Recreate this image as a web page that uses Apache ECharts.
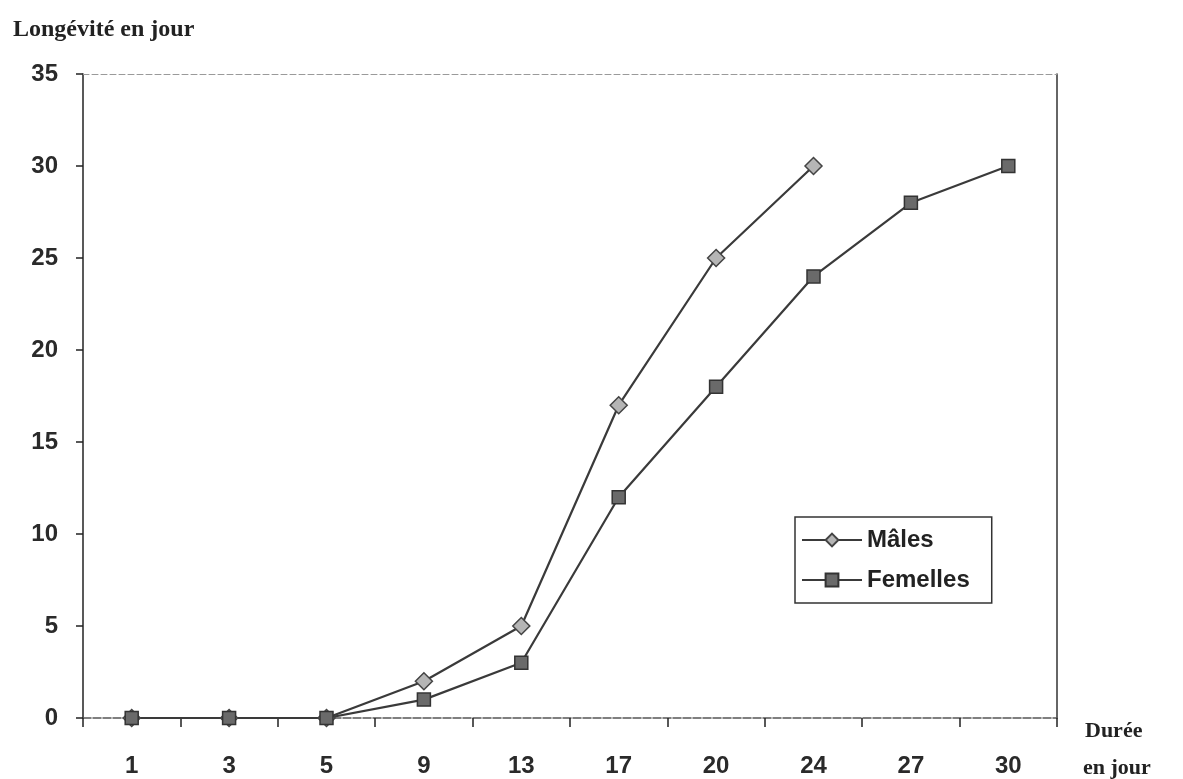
<!DOCTYPE html>
<html><head><meta charset="utf-8">
<script src="https://cdn.jsdelivr.net/npm/echarts@6/dist/echarts.min.js"></script>
<style>html,body{margin:0;padding:0;background:#fff}#c{width:1183px;height:779px}</style>
</head><body><div id="c"></div>
<script>
const categories = ['1','3','5','9','13','17','20','24','27','30'];
const males = [0,0,0,2,5,17,25,30,null,null];
const femelles = [0,0,0,1,3,12,18,24,28,30];
const yTicks = {min:0, max:35, interval:5};

const chart = echarts.init(document.getElementById('c'), null, {renderer:'canvas'});
const lineCol = '#3a3a3a';
const tickFont = {fontFamily:'Liberation Sans', fontSize:24, color:'#2a2a2a', fontWeight:'bold'};
const serifBold = {fontFamily:'Liberation Serif', fontWeight:'bold', fontSize:22, color:'#222'};
chart.setOption({
  backgroundColor:'#fff',
  animation:false,
  grid:{left:83, right:126, top:74, bottom:61, containLabel:false},
  title:[
    {text:'Longévité en jour', left:8, top:13, textStyle:Object.assign({}, serifBold, {fontSize:24})},
    {text:'Durée', left:1085, top:720, padding:0, textStyle:serifBold},
    {text:'en jour', left:1083, top:757, padding:0, textStyle:serifBold}
  ],
  legend:{
    orient:'vertical', left:795, top:517,
    padding:[11,22,11,6], itemGap:16,
    borderColor:'#333', borderWidth:1.5, backgroundColor:'#fff',
    itemWidth:60, itemHeight:16,
    textStyle:{fontFamily:'Liberation Sans', fontSize:24, color:'#222', fontWeight:'bold'},
    data:['Mâles','Femelles']
  },
  xAxis:[{
    type:'category', data:categories, boundaryGap:true,
    axisLine:{onZero:false, lineStyle:{color:'#555', width:1.5, type:[8,2]}},
    axisTick:{show:true, alignWithLabel:false, length:9, inside:false, lineStyle:{color:'#222', width:1.5}},
    axisLabel:Object.assign({margin:36}, tickFont),
    splitLine:{show:false}
  },{
    type:'category', data:categories, position:'top', boundaryGap:true,
    axisLine:{onZero:false, lineStyle:{color:'#9a9a9a', width:1, type:[6,3]}},
    axisTick:{show:false}, axisLabel:{show:false}
  }],
  yAxis:[{
    type:'value', min:yTicks.min, max:yTicks.max, interval:yTicks.interval,
    axisLine:{show:true, onZero:false, lineStyle:{color:'#222', width:1.5}},
    axisTick:{show:true, length:7, lineStyle:{color:'#222', width:1.5}},
    axisLabel:Object.assign({margin:25}, tickFont),
    splitLine:{show:false}
  },{
    type:'value', min:yTicks.min, max:yTicks.max, interval:yTicks.interval, position:'right',
    axisLine:{show:true, onZero:false, lineStyle:{color:'#333', width:1.5}},
    axisTick:{show:false}, axisLabel:{show:false}, splitLine:{show:false}
  }],
  series:[{
    name:'Mâles', type:'line', data:males, connectNulls:false,
    symbol:'diamond', symbolSize:17,
    lineStyle:{color:lineCol, width:2.2},
    itemStyle:{color:'#b5b5b5', borderColor:'#444', borderWidth:1.5}
  },{
    name:'Femelles', type:'line', data:femelles,
    symbol:'rect', symbolSize:13,
    lineStyle:{color:lineCol, width:2.2},
    itemStyle:{color:'#6a6a6a', borderColor:'#333', borderWidth:1.5}
  }]
});
</script></body></html>
